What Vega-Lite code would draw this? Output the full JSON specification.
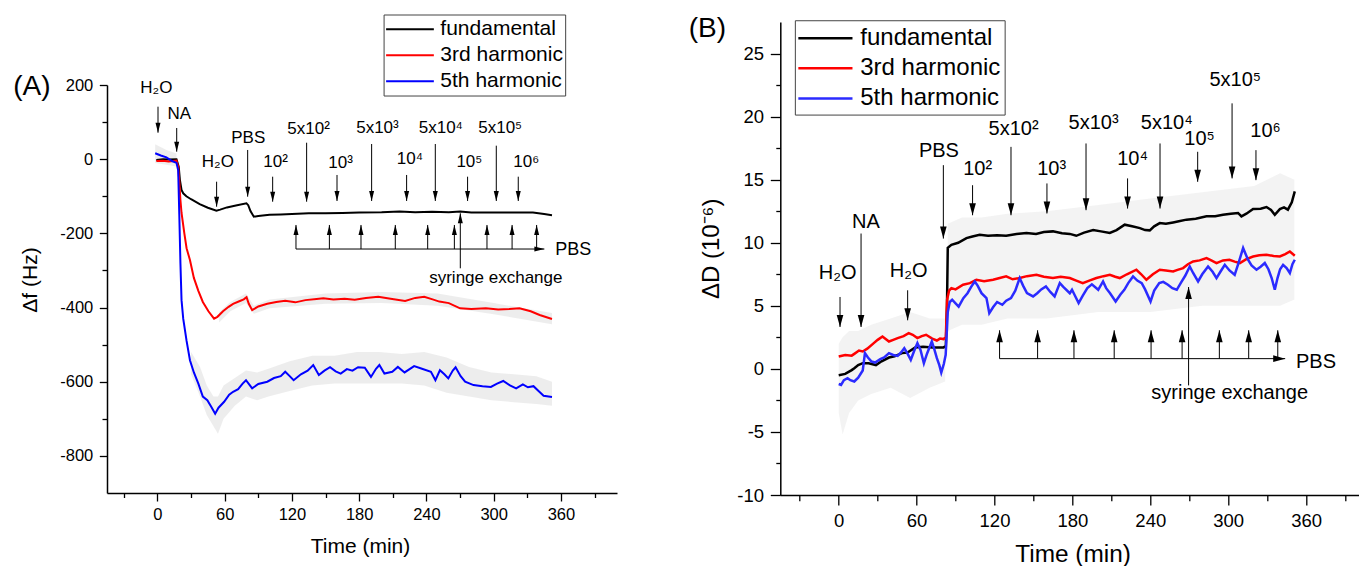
{
  "$schema": "https://vega.github.io/schema/vega-lite/v6.json",
  "padding": {"left": 13, "top": 14, "right": 2, "bottom": 0},
  "config": {
    "view": {"stroke": null},
    "font": "Liberation Sans",
    "axis": {"domainColor": "black", "tickColor": "black", "labelColor": "black", "titleColor": "black", "grid": false, "titleFontWeight": "normal", "labelFont": "Liberation Sans", "titleFont": "Liberation Sans", "labelOverlap": false, "labelFlush": false}
  },
  "datasets": {
    "aLines": [
      {"series":"fundamental","t":-1,"v":-2},{"series":"fundamental","t":5,"v":0},{"series":"fundamental","t":10,"v":-1},{"series":"fundamental","t":17,"v":0},{"series":"fundamental","t":19,"v":-20},{"series":"fundamental","t":20,"v":-55},{"series":"fundamental","t":21.5,"v":-83},{"series":"fundamental","t":23,"v":-92},{"series":"fundamental","t":25.8,"v":-100},{"series":"fundamental","t":30,"v":-108},{"series":"fundamental","t":37.7,"v":-121},{"series":"fundamental","t":45,"v":-131},{"series":"fundamental","t":52.6,"v":-139},{"series":"fundamental","t":56,"v":-136},{"series":"fundamental","t":62,"v":-130},{"series":"fundamental","t":70,"v":-125},{"series":"fundamental","t":79.4,"v":-119},{"series":"fundamental","t":81,"v":-124},{"series":"fundamental","t":83,"v":-140},{"series":"fundamental","t":86,"v":-155},{"series":"fundamental","t":90,"v":-153},{"series":"fundamental","t":100,"v":-150},{"series":"fundamental","t":110,"v":-149},{"series":"fundamental","t":120,"v":-148},{"series":"fundamental","t":135,"v":-146},{"series":"fundamental","t":150,"v":-146},{"series":"fundamental","t":165,"v":-145},{"series":"fundamental","t":180,"v":-144},{"series":"fundamental","t":200,"v":-143},{"series":"fundamental","t":216,"v":-141},{"series":"fundamental","t":230,"v":-143},{"series":"fundamental","t":245,"v":-142},{"series":"fundamental","t":260,"v":-143},{"series":"fundamental","t":270,"v":-141},{"series":"fundamental","t":280,"v":-144},{"series":"fundamental","t":300,"v":-144},{"series":"fundamental","t":320,"v":-144},{"series":"fundamental","t":335,"v":-144},{"series":"fundamental","t":345,"v":-148},{"series":"fundamental","t":352,"v":-151},
      {"series":"3rd harmonic","t":-1,"v":-5},{"series":"3rd harmonic","t":5,"v":-4},{"series":"3rd harmonic","t":10,"v":-6},{"series":"3rd harmonic","t":17,"v":-4},{"series":"3rd harmonic","t":18.5,"v":-20},{"series":"3rd harmonic","t":19.5,"v":-60},{"series":"3rd harmonic","t":20.5,"v":-110},{"series":"3rd harmonic","t":21.5,"v":-145},{"series":"3rd harmonic","t":24,"v":-200},{"series":"3rd harmonic","t":26,"v":-240},{"series":"3rd harmonic","t":29,"v":-272},{"series":"3rd harmonic","t":32.5,"v":-320},{"series":"3rd harmonic","t":36.5,"v":-355},{"series":"3rd harmonic","t":40.5,"v":-385},{"series":"3rd harmonic","t":45.5,"v":-410},{"series":"3rd harmonic","t":50.5,"v":-430},{"series":"3rd harmonic","t":53.5,"v":-425},{"series":"3rd harmonic","t":58.5,"v":-410},{"series":"3rd harmonic","t":63.5,"v":-398},{"series":"3rd harmonic","t":67.5,"v":-390},{"series":"3rd harmonic","t":73,"v":-383},{"series":"3rd harmonic","t":77,"v":-378},{"series":"3rd harmonic","t":79.5,"v":-372},{"series":"3rd harmonic","t":81.5,"v":-390},{"series":"3rd harmonic","t":84.5,"v":-407},{"series":"3rd harmonic","t":90,"v":-397},{"series":"3rd harmonic","t":98,"v":-390},{"series":"3rd harmonic","t":106,"v":-385},{"series":"3rd harmonic","t":114,"v":-382},{"series":"3rd harmonic","t":123,"v":-386},{"series":"3rd harmonic","t":132,"v":-380},{"series":"3rd harmonic","t":142,"v":-377},{"series":"3rd harmonic","t":148,"v":-375},{"series":"3rd harmonic","t":157,"v":-378},{"series":"3rd harmonic","t":167,"v":-376},{"series":"3rd harmonic","t":176,"v":-379},{"series":"3rd harmonic","t":186,"v":-374},{"series":"3rd harmonic","t":197,"v":-371},{"series":"3rd harmonic","t":208,"v":-376},{"series":"3rd harmonic","t":221,"v":-382},{"series":"3rd harmonic","t":230,"v":-374},{"series":"3rd harmonic","t":238,"v":-371},{"series":"3rd harmonic","t":245.5,"v":-378},{"series":"3rd harmonic","t":251.5,"v":-384},{"series":"3rd harmonic","t":260,"v":-388},{"series":"3rd harmonic","t":270,"v":-402},{"series":"3rd harmonic","t":280,"v":-404},{"series":"3rd harmonic","t":293,"v":-402},{"series":"3rd harmonic","t":304,"v":-405},{"series":"3rd harmonic","t":314,"v":-404},{"series":"3rd harmonic","t":323,"v":-402},{"series":"3rd harmonic","t":333,"v":-410},{"series":"3rd harmonic","t":341,"v":-420},{"series":"3rd harmonic","t":352,"v":-431},
      {"series":"5th harmonic","t":-2,"v":16},{"series":"5th harmonic","t":3,"v":10},{"series":"5th harmonic","t":8,"v":5},{"series":"5th harmonic","t":13,"v":-5},{"series":"5th harmonic","t":17,"v":-10},{"series":"5th harmonic","t":18.5,"v":-30},{"series":"5th harmonic","t":19.5,"v":-150},{"series":"5th harmonic","t":20.5,"v":-280},{"series":"5th harmonic","t":21.5,"v":-380},{"series":"5th harmonic","t":23,"v":-430},{"series":"5th harmonic","t":26,"v":-490},{"series":"5th harmonic","t":29,"v":-542},{"series":"5th harmonic","t":32.5,"v":-575},{"series":"5th harmonic","t":36.5,"v":-605},{"series":"5th harmonic","t":40.5,"v":-640},{"series":"5th harmonic","t":44.5,"v":-650},{"series":"5th harmonic","t":48.5,"v":-670},{"series":"5th harmonic","t":51.5,"v":-686},{"series":"5th harmonic","t":54.5,"v":-670},{"series":"5th harmonic","t":59.5,"v":-654},{"series":"5th harmonic","t":64,"v":-635},{"series":"5th harmonic","t":67.5,"v":-627},{"series":"5th harmonic","t":72,"v":-620},{"series":"5th harmonic","t":76,"v":-605},{"series":"5th harmonic","t":79,"v":-596},{"series":"5th harmonic","t":82,"v":-608},{"series":"5th harmonic","t":84.5,"v":-618},{"series":"5th harmonic","t":90,"v":-606},{"series":"5th harmonic","t":98,"v":-600},{"series":"5th harmonic","t":104,"v":-590},{"series":"5th harmonic","t":110,"v":-585},{"series":"5th harmonic","t":114,"v":-573},{"series":"5th harmonic","t":118,"v":-585},{"series":"5th harmonic","t":121.5,"v":-596},{"series":"5th harmonic","t":128,"v":-580},{"series":"5th harmonic","t":134,"v":-570},{"series":"5th harmonic","t":139,"v":-555},{"series":"5th harmonic","t":144,"v":-582},{"series":"5th harmonic","t":149,"v":-570},{"series":"5th harmonic","t":154,"v":-561},{"series":"5th harmonic","t":159,"v":-572},{"series":"5th harmonic","t":163.5,"v":-578},{"series":"5th harmonic","t":169,"v":-566},{"series":"5th harmonic","t":174,"v":-570},{"series":"5th harmonic","t":179,"v":-561},{"series":"5th harmonic","t":185,"v":-562},{"series":"5th harmonic","t":190.5,"v":-587},{"series":"5th harmonic","t":195,"v":-565},{"series":"5th harmonic","t":198,"v":-555},{"series":"5th harmonic","t":202.5,"v":-578},{"series":"5th harmonic","t":209.5,"v":-573},{"series":"5th harmonic","t":214.5,"v":-560},{"series":"5th harmonic","t":220.5,"v":-575},{"series":"5th harmonic","t":229,"v":-558},{"series":"5th harmonic","t":236,"v":-565},{"series":"5th harmonic","t":244,"v":-573},{"series":"5th harmonic","t":248,"v":-596},{"series":"5th harmonic","t":252,"v":-569},{"series":"5th harmonic","t":256,"v":-580},{"series":"5th harmonic","t":259.5,"v":-591},{"series":"5th harmonic","t":263.5,"v":-570},{"series":"5th harmonic","t":266,"v":-561},{"series":"5th harmonic","t":270.5,"v":-585},{"series":"5th harmonic","t":274.5,"v":-600},{"series":"5th harmonic","t":282,"v":-609},{"series":"5th harmonic","t":290,"v":-612},{"series":"5th harmonic","t":297.5,"v":-614},{"series":"5th harmonic","t":303,"v":-605},{"series":"5th harmonic","t":308.5,"v":-598},{"series":"5th harmonic","t":314.5,"v":-610},{"series":"5th harmonic","t":320,"v":-618},{"series":"5th harmonic","t":326,"v":-607},{"series":"5th harmonic","t":330.5,"v":-615},{"series":"5th harmonic","t":335.5,"v":-612},{"series":"5th harmonic","t":340,"v":-625},{"series":"5th harmonic","t":344.5,"v":-638},{"series":"5th harmonic","t":352,"v":-641}
    ],
    "aBand": [
      {"g":"early","t":-2,"lo":-10,"hi":40},{"g":"early","t":8,"lo":-15,"hi":25},{"g":"early","t":17,"lo":-20,"hi":15},
      {"g":"blue","t":30,"lo":-580,"hi":-520},{"g":"blue","t":38,"lo":-640,"hi":-560},{"g":"blue","t":44,"lo":-690,"hi":-610},{"g":"blue","t":50,"lo":-720,"hi":-640},{"g":"blue","t":54,"lo":-740,"hi":-640},{"g":"blue","t":59,"lo":-700,"hi":-610},{"g":"blue","t":69,"lo":-665,"hi":-590},{"g":"blue","t":79,"lo":-640,"hi":-570},{"g":"blue","t":89,"lo":-650,"hi":-575},{"g":"blue","t":99,"lo":-640,"hi":-565},{"g":"blue","t":118,"lo":-625,"hi":-545},{"g":"blue","t":138,"lo":-610,"hi":-530},{"g":"blue","t":158,"lo":-605,"hi":-530},{"g":"blue","t":178,"lo":-605,"hi":-520},{"g":"blue","t":198,"lo":-605,"hi":-520},{"g":"blue","t":218,"lo":-605,"hi":-525},{"g":"blue","t":238,"lo":-610,"hi":-520},{"g":"blue","t":258,"lo":-630,"hi":-535},{"g":"blue","t":278,"lo":-640,"hi":-560},{"g":"blue","t":298,"lo":-650,"hi":-575},{"g":"blue","t":318,"lo":-655,"hi":-580},{"g":"blue","t":338,"lo":-660,"hi":-585},{"g":"blue","t":352,"lo":-665,"hi":-600},
      {"g":"red","t":55,"lo":-440,"hi":-412},{"g":"red","t":65,"lo":-410,"hi":-385},{"g":"red","t":79,"lo":-388,"hi":-362},{"g":"red","t":86,"lo":-417,"hi":-395},{"g":"red","t":100,"lo":-402,"hi":-378},{"g":"red","t":150,"lo":-390,"hi":-362},{"g":"red","t":200,"lo":-388,"hi":-358},{"g":"red","t":250,"lo":-395,"hi":-362},{"g":"red","t":300,"lo":-418,"hi":-388},{"g":"red","t":352,"lo":-445,"hi":-415}
    ],
    "aDown": [
      {"t":0.5,"top":141.5,"tip":71.4},{"t":17.2,"top":84.1,"tip":20.2},{"t":52.8,"top":-60.7,"tip":-128.1},{"t":80.5,"top":24.8,"tip":-101.1},{"t":102.8,"top":-47.2,"tip":-114.6},{"t":133.1,"top":44.4,"tip":-114.6},{"t":160.2,"top":-42.6,"tip":-112.7},{"t":191.1,"top":40.9,"tip":-112.7},{"t":222.3,"top":-42.6,"tip":-112.7},{"t":247.9,"top":40.9,"tip":-112.7},{"t":276.7,"top":-47.2,"tip":-112.7},{"t":302.3,"top":36.4,"tip":-112.7},{"t":321.9,"top":-47.2,"tip":-112.7}
    ],
    "aUp": [
      {"t":123.6,"base":-242.2,"tip":-177.4},{"t":153.4,"base":-242.2,"tip":-177.4},{"t":181.6,"base":-242.2,"tip":-177.4},{"t":212.2,"base":-242.2,"tip":-177.4},{"t":241.1,"base":-242.2,"tip":-177.4},{"t":264.9,"base":-242.2,"tip":-177.4},{"t":294.0,"base":-242.2,"tip":-177.4},{"t":316.4,"base":-242.2,"tip":-177.4},{"t":338.3,"base":-242.2,"tip":-177.4}
    ],
    "aBase": [{"t1":123.6,"t2":345.2,"v":-242.2}],
    "aSyr": [{"t":270.2,"top":-145.9,"bottom":-294.2}],
    "aLabels": [
      {"t":-1.0,"v":177.6,"label":"H₂O"},{"t":19.5,"v":108.3,"label":"NA"},{"t":53.9,"v":-20.3,"label":"H₂O"},{"t":81,"v":42.8,"label":"PBS"},{"t":105.4,"v":-20.3,"label":"10²"},{"t":134.8,"v":67.9,"label":"5x10²"},{"t":163.4,"v":-24.6,"label":"10³"},{"t":196.3,"v":71.4,"label":"5x10³"},{"t":225.3,"v":-13,"label":"10⁴"},{"t":252.8,"v":71.4,"label":"5x10⁴"},{"t":278.3,"v":-20.3,"label":"10⁵"},{"t":305.8,"v":71.4,"label":"5x10⁵"},{"t":329,"v":-20.3,"label":"10⁶"},{"t":301.9,"v":-334.6,"label":"syringe exchange"}
    ],
    "aRight": [{"t":355,"v":-258.3,"label":"PBS"}],
    "aLegend": [{"series":"fundamental","v":350.4},{"series":"3rd harmonic","v":280.1},{"series":"5th harmonic","v":210}],
    "bLines": [
      {"series":"fundamental","t":0,"v":-0.5},{"series":"fundamental","t":5,"v":-0.4},{"series":"fundamental","t":10,"v":-0.1},{"series":"fundamental","t":12,"v":0.05},{"series":"fundamental","t":15,"v":0.3},{"series":"fundamental","t":18.5,"v":0.45},{"series":"fundamental","t":23,"v":0.45},{"series":"fundamental","t":28.7,"v":0.3},{"series":"fundamental","t":33,"v":0.6},{"series":"fundamental","t":38.7,"v":0.9},{"series":"fundamental","t":43,"v":1.0},{"series":"fundamental","t":48.8,"v":1.25},{"series":"fundamental","t":53,"v":1.3},{"series":"fundamental","t":58.9,"v":1.7},{"series":"fundamental","t":65,"v":1.75},{"series":"fundamental","t":72,"v":1.7},{"series":"fundamental","t":80.7,"v":1.7},{"series":"fundamental","t":82.5,"v":1.8},{"series":"fundamental","t":83.4,"v":5},{"series":"fundamental","t":84,"v":9.6},{"series":"fundamental","t":86.8,"v":9.84},{"series":"fundamental","t":92,"v":10.0},{"series":"fundamental","t":98.4,"v":10.37},{"series":"fundamental","t":103,"v":10.5},{"series":"fundamental","t":108.6,"v":10.63},{"series":"fundamental","t":115,"v":10.55},{"series":"fundamental","t":122,"v":10.6},{"series":"fundamental","t":129,"v":10.55},{"series":"fundamental","t":137,"v":10.7},{"series":"fundamental","t":144.6,"v":10.77},{"series":"fundamental","t":152,"v":10.7},{"series":"fundamental","t":158,"v":10.85},{"series":"fundamental","t":165,"v":10.9},{"series":"fundamental","t":172,"v":10.75},{"series":"fundamental","t":178,"v":10.7},{"series":"fundamental","t":183,"v":10.55},{"series":"fundamental","t":189,"v":10.8},{"series":"fundamental","t":196,"v":11.0},{"series":"fundamental","t":202,"v":10.9},{"series":"fundamental","t":208.8,"v":10.77},{"series":"fundamental","t":214,"v":11.0},{"series":"fundamental","t":220.3,"v":11.43},{"series":"fundamental","t":226,"v":11.3},{"series":"fundamental","t":232,"v":11.16},{"series":"fundamental","t":236,"v":11.0},{"series":"fundamental","t":239.6,"v":10.98},{"series":"fundamental","t":243,"v":11.3},{"series":"fundamental","t":247.3,"v":11.56},{"series":"fundamental","t":252,"v":11.5},{"series":"fundamental","t":257.6,"v":11.61},{"series":"fundamental","t":262,"v":11.7},{"series":"fundamental","t":267.9,"v":11.83},{"series":"fundamental","t":275,"v":11.9},{"series":"fundamental","t":283.3,"v":12.09},{"series":"fundamental","t":290,"v":12.1},{"series":"fundamental","t":296,"v":12.22},{"series":"fundamental","t":302,"v":12.3},{"series":"fundamental","t":307.6,"v":12.36},{"series":"fundamental","t":310.2,"v":12.09},{"series":"fundamental","t":314,"v":12.3},{"series":"fundamental","t":319.2,"v":12.67},{"series":"fundamental","t":325,"v":12.7},{"series":"fundamental","t":329.5,"v":12.83},{"series":"fundamental","t":333,"v":12.6},{"series":"fundamental","t":335.9,"v":12.22},{"series":"fundamental","t":339.8,"v":12.67},{"series":"fundamental","t":343,"v":12.8},{"series":"fundamental","t":346,"v":12.62},{"series":"fundamental","t":349,"v":13.2},{"series":"fundamental","t":351.3,"v":14.07},
      {"series":"3rd harmonic","t":0,"v":0.98},{"series":"3rd harmonic","t":5,"v":1.1},{"series":"3rd harmonic","t":10,"v":1.05},{"series":"3rd harmonic","t":12,"v":1.19},{"series":"3rd harmonic","t":15.6,"v":1.45},{"series":"3rd harmonic","t":18.5,"v":1.38},{"series":"3rd harmonic","t":22,"v":1.6},{"series":"3rd harmonic","t":27,"v":2.04},{"series":"3rd harmonic","t":30,"v":2.3},{"series":"3rd harmonic","t":33.7,"v":2.57},{"series":"3rd harmonic","t":38.7,"v":2.17},{"series":"3rd harmonic","t":42,"v":2.3},{"series":"3rd harmonic","t":45.4,"v":2.44},{"series":"3rd harmonic","t":50,"v":2.6},{"series":"3rd harmonic","t":53.9,"v":2.83},{"series":"3rd harmonic","t":57,"v":2.7},{"series":"3rd harmonic","t":60.6,"v":2.44},{"series":"3rd harmonic","t":64,"v":2.6},{"series":"3rd harmonic","t":67.3,"v":2.7},{"series":"3rd harmonic","t":72,"v":2.4},{"series":"3rd harmonic","t":75.6,"v":2.25},{"series":"3rd harmonic","t":78,"v":2.4},{"series":"3rd harmonic","t":80.7,"v":2.36},{"series":"3rd harmonic","t":82.5,"v":2.5},{"series":"3rd harmonic","t":83.5,"v":5.5},{"series":"3rd harmonic","t":85,"v":6.2},{"series":"3rd harmonic","t":86.8,"v":6.4},{"series":"3rd harmonic","t":90,"v":6.3},{"series":"3rd harmonic","t":95.8,"v":6.67},{"series":"3rd harmonic","t":101,"v":6.8},{"series":"3rd harmonic","t":106,"v":7.06},{"series":"3rd harmonic","t":112,"v":6.95},{"series":"3rd harmonic","t":118.9,"v":7.06},{"series":"3rd harmonic","t":124,"v":7.2},{"series":"3rd harmonic","t":129,"v":7.33},{"series":"3rd harmonic","t":134,"v":7.1},{"series":"3rd harmonic","t":139.4,"v":7.2},{"series":"3rd harmonic","t":145,"v":7.35},{"series":"3rd harmonic","t":152.3,"v":7.46},{"series":"3rd harmonic","t":158,"v":7.3},{"series":"3rd harmonic","t":165,"v":7.2},{"series":"3rd harmonic","t":171,"v":7.3},{"series":"3rd harmonic","t":178,"v":7.2},{"series":"3rd harmonic","t":183,"v":7.0},{"series":"3rd harmonic","t":188,"v":6.8},{"series":"3rd harmonic","t":193,"v":7.0},{"series":"3rd harmonic","t":198.5,"v":7.2},{"series":"3rd harmonic","t":204,"v":7.35},{"series":"3rd harmonic","t":208.8,"v":7.46},{"series":"3rd harmonic","t":213,"v":7.3},{"series":"3rd harmonic","t":216.5,"v":7.2},{"series":"3rd harmonic","t":222,"v":7.5},{"series":"3rd harmonic","t":229.3,"v":7.86},{"series":"3rd harmonic","t":233,"v":7.5},{"series":"3rd harmonic","t":237,"v":7.06},{"series":"3rd harmonic","t":242,"v":7.5},{"series":"3rd harmonic","t":247.3,"v":7.86},{"series":"3rd harmonic","t":252,"v":7.8},{"series":"3rd harmonic","t":257.6,"v":7.72},{"series":"3rd harmonic","t":261,"v":7.85},{"series":"3rd harmonic","t":265.3,"v":7.99},{"series":"3rd harmonic","t":269,"v":8.3},{"series":"3rd harmonic","t":273,"v":8.52},{"series":"3rd harmonic","t":278,"v":8.6},{"series":"3rd harmonic","t":283.3,"v":8.78},{"series":"3rd harmonic","t":287,"v":8.6},{"series":"3rd harmonic","t":291,"v":8.39},{"series":"3rd harmonic","t":296,"v":8.6},{"series":"3rd harmonic","t":301,"v":8.65},{"series":"3rd harmonic","t":305,"v":8.5},{"series":"3rd harmonic","t":309,"v":8.39},{"series":"3rd harmonic","t":314,"v":8.7},{"series":"3rd harmonic","t":319.2,"v":8.91},{"series":"3rd harmonic","t":324,"v":9.0},{"series":"3rd harmonic","t":329.5,"v":9.05},{"series":"3rd harmonic","t":335,"v":8.95},{"series":"3rd harmonic","t":339.8,"v":8.91},{"series":"3rd harmonic","t":344,"v":9.1},{"series":"3rd harmonic","t":347.5,"v":9.31},{"series":"3rd harmonic","t":351.3,"v":8.97},
      {"series":"5th harmonic","t":0,"v":-1.2},{"series":"5th harmonic","t":1.8,"v":-1.27},{"series":"5th harmonic","t":4,"v":-0.9},{"series":"5th harmonic","t":6.8,"v":-0.74},{"series":"5th harmonic","t":9,"v":-0.9},{"series":"5th harmonic","t":12,"v":-1.0},{"series":"5th harmonic","t":15,"v":-0.7},{"series":"5th harmonic","t":18.5,"v":-0.13},{"series":"5th harmonic","t":20.2,"v":1.25},{"series":"5th harmonic","t":22.5,"v":0.9},{"series":"5th harmonic","t":25.3,"v":0.58},{"series":"5th harmonic","t":28,"v":0.5},{"series":"5th harmonic","t":32,"v":0.77},{"series":"5th harmonic","t":35,"v":0.9},{"series":"5th harmonic","t":38.7,"v":1.25},{"series":"5th harmonic","t":42,"v":1.1},{"series":"5th harmonic","t":45.4,"v":1.03},{"series":"5th harmonic","t":48,"v":1.3},{"series":"5th harmonic","t":50.5,"v":1.64},{"series":"5th harmonic","t":53,"v":1.2},{"series":"5th harmonic","t":55.5,"v":0.71},{"series":"5th harmonic","t":58,"v":1.4},{"series":"5th harmonic","t":60.6,"v":2.04},{"series":"5th harmonic","t":63,"v":1.5},{"series":"5th harmonic","t":65.6,"v":0.45},{"series":"5th harmonic","t":68,"v":1.2},{"series":"5th harmonic","t":71.7,"v":2.17},{"series":"5th harmonic","t":73.5,"v":1.6},{"series":"5th harmonic","t":75.6,"v":0.85},{"series":"5th harmonic","t":77.5,"v":0.3},{"series":"5th harmonic","t":79,"v":-0.29},{"series":"5th harmonic","t":81,"v":0.4},{"series":"5th harmonic","t":82.4,"v":1.11},{"series":"5th harmonic","t":84,"v":4.5},{"series":"5th harmonic","t":85.5,"v":5.3},{"series":"5th harmonic","t":87.4,"v":5.48},{"series":"5th harmonic","t":90,"v":5.2},{"series":"5th harmonic","t":92.4,"v":4.94},{"series":"5th harmonic","t":96,"v":5.6},{"series":"5th harmonic","t":99.2,"v":6.0},{"series":"5th harmonic","t":102,"v":6.5},{"series":"5th harmonic","t":104.8,"v":6.93},{"series":"5th harmonic","t":107,"v":6.6},{"series":"5th harmonic","t":110,"v":6.0},{"series":"5th harmonic","t":113.8,"v":5.61},{"series":"5th harmonic","t":116,"v":4.42},{"series":"5th harmonic","t":119,"v":4.9},{"series":"5th harmonic","t":122,"v":5.3},{"series":"5th harmonic","t":126,"v":5.08},{"series":"5th harmonic","t":129,"v":5.4},{"series":"5th harmonic","t":132.7,"v":5.61},{"series":"5th harmonic","t":136,"v":6.2},{"series":"5th harmonic","t":139.4,"v":7.2},{"series":"5th harmonic","t":142,"v":6.6},{"series":"5th harmonic","t":145,"v":6.0},{"series":"5th harmonic","t":149.7,"v":5.74},{"series":"5th harmonic","t":152.9,"v":6.0},{"series":"5th harmonic","t":156,"v":6.3},{"series":"5th harmonic","t":159.6,"v":6.53},{"series":"5th harmonic","t":163,"v":6.1},{"series":"5th harmonic","t":166.3,"v":5.74},{"series":"5th harmonic","t":170.3,"v":6.8},{"series":"5th harmonic","t":173,"v":6.5},{"series":"5th harmonic","t":178,"v":6.0},{"series":"5th harmonic","t":179.7,"v":6.27},{"series":"5th harmonic","t":182,"v":5.8},{"series":"5th harmonic","t":184.8,"v":5.21},{"series":"5th harmonic","t":188,"v":5.8},{"series":"5th harmonic","t":191.5,"v":6.4},{"series":"5th harmonic","t":195,"v":6.7},{"series":"5th harmonic","t":199.9,"v":6.27},{"series":"5th harmonic","t":203.6,"v":6.93},{"series":"5th harmonic","t":206,"v":6.4},{"series":"5th harmonic","t":209,"v":6.0},{"series":"5th harmonic","t":213.3,"v":5.34},{"series":"5th harmonic","t":217,"v":5.9},{"series":"5th harmonic","t":220,"v":6.27},{"series":"5th harmonic","t":223,"v":6.8},{"series":"5th harmonic","t":226.7,"v":7.33},{"series":"5th harmonic","t":230,"v":7.0},{"series":"5th harmonic","t":233.4,"v":6.8},{"series":"5th harmonic","t":236,"v":6.3},{"series":"5th harmonic","t":240.2,"v":5.34},{"series":"5th harmonic","t":243,"v":6.2},{"series":"5th harmonic","t":246.9,"v":6.8},{"series":"5th harmonic","t":250,"v":6.9},{"series":"5th harmonic","t":253.6,"v":6.67},{"series":"5th harmonic","t":257,"v":6.4},{"series":"5th harmonic","t":260.4,"v":6.27},{"series":"5th harmonic","t":264,"v":6.9},{"series":"5th harmonic","t":267,"v":7.4},{"series":"5th harmonic","t":270.4,"v":8.12},{"series":"5th harmonic","t":273,"v":7.6},{"series":"5th harmonic","t":276.8,"v":6.93},{"series":"5th harmonic","t":280,"v":7.5},{"series":"5th harmonic","t":284.5,"v":8.12},{"series":"5th harmonic","t":288,"v":7.7},{"series":"5th harmonic","t":291,"v":7.2},{"series":"5th harmonic","t":294,"v":7.7},{"series":"5th harmonic","t":297.4,"v":8.25},{"series":"5th harmonic","t":301,"v":7.8},{"series":"5th harmonic","t":305,"v":7.46},{"series":"5th harmonic","t":308,"v":8.4},{"series":"5th harmonic","t":311.5,"v":9.58},{"series":"5th harmonic","t":313,"v":9.2},{"series":"5th harmonic","t":315.3,"v":8.65},{"series":"5th harmonic","t":318,"v":8.2},{"series":"5th harmonic","t":321.8,"v":7.86},{"series":"5th harmonic","t":325,"v":8.1},{"series":"5th harmonic","t":328.2,"v":8.39},{"series":"5th harmonic","t":331,"v":7.9},{"series":"5th harmonic","t":333.5,"v":7.2},{"series":"5th harmonic","t":335.9,"v":6.27},{"series":"5th harmonic","t":338,"v":7.2},{"series":"5th harmonic","t":340,"v":7.9},{"series":"5th harmonic","t":342.3,"v":8.25},{"series":"5th harmonic","t":345,"v":8.0},{"series":"5th harmonic","t":347.5,"v":7.6},{"series":"5th harmonic","t":349.5,"v":8.3},{"series":"5th harmonic","t":351.3,"v":8.65}
    ],
    "bBand": [
      {"g":"early","t":0,"lo":-3.5,"hi":2.0},{"g":"early","t":3,"lo":-5.2,"hi":2.5},{"g":"early","t":8,"lo":-3.5,"hi":3.0},{"g":"early","t":15,"lo":-2.5,"hi":3.0},{"g":"early","t":25,"lo":-2.0,"hi":3.5},{"g":"early","t":40,"lo":-1.5,"hi":4.0},{"g":"early","t":55,"lo":-2.3,"hi":4.5},{"g":"early","t":70,"lo":-1.5,"hi":4.0},{"g":"early","t":82,"lo":-1.0,"hi":4.0},
      {"g":"late","t":84,"lo":3.0,"hi":11.5},{"g":"late","t":95,"lo":3.5,"hi":12.0},{"g":"late","t":110,"lo":3.5,"hi":12.0},{"g":"late","t":130,"lo":4.0,"hi":12.3},{"g":"late","t":160,"lo":4.0,"hi":12.5},{"g":"late","t":200,"lo":4.5,"hi":13.0},{"g":"late","t":240,"lo":4.5,"hi":13.5},{"g":"late","t":280,"lo":5.0,"hi":14.0},{"g":"late","t":320,"lo":5.0,"hi":14.5},{"g":"late","t":340,"lo":5.0,"hi":15.5},{"g":"late","t":351,"lo":5.5,"hi":15.0}
    ],
    "bDown": [
      {"t":1.0,"top":5.70,"tip":3.32},{"t":17.2,"top":10.73,"tip":3.32},{"t":53.1,"top":6.23,"tip":3.85},{"t":80.6,"top":16.15,"tip":10.33},{"t":103.1,"top":14.56,"tip":12.18},{"t":132.7,"top":17.6,"tip":12.18},{"t":160.4,"top":14.7,"tip":12.32},{"t":190.5,"top":17.87,"tip":12.58},{"t":222.5,"top":15.1,"tip":12.71},{"t":247.5,"top":17.87,"tip":12.71},{"t":276.5,"top":17.21,"tip":14.83},{"t":303,"top":21.05,"tip":15.1},{"t":321.4,"top":17.34,"tip":14.96}
    ],
    "bUp": [
      {"t":123.9,"base":0.81,"tip":3.06},{"t":153.2,"base":0.81,"tip":3.06},{"t":181.2,"base":0.81,"tip":3.06},{"t":212.2,"base":0.81,"tip":3.06},{"t":240.6,"base":0.81,"tip":3.06},{"t":264.5,"base":0.81,"tip":3.06},{"t":293.2,"base":0.81,"tip":3.06},{"t":315.8,"base":0.81,"tip":3.06},{"t":338.2,"base":0.81,"tip":3.06}
    ],
    "bBase": [{"t1":123.9,"t2":343.9,"v":0.81}],
    "bSyr": [{"t":269.5,"top":6.49,"bottom":-1.31}],
    "bLabels": [
      {"t":-0.8,"v":7.16,"label":"H₂O"},{"t":21,"v":11.2,"label":"NA"},{"t":53.8,"v":7.29,"label":"H₂O"},{"t":77.2,"v":16.81,"label":"PBS"},{"t":107,"v":15.36,"label":"10²"},{"t":134.7,"v":18.53,"label":"5x10²"},{"t":164,"v":15.36,"label":"10³"},{"t":196.3,"v":18.98,"label":"5x10³"},{"t":226.4,"v":16.15,"label":"10⁴"},{"t":252.7,"v":18.98,"label":"5x10⁴"},{"t":278,"v":17.74,"label":"10⁵"},{"t":305.5,"v":22.42,"label":"5x10⁵"},{"t":328.8,"v":18.4,"label":"10⁶"},{"t":301.2,"v":-2.37,"label":"syringe exchange"}
    ],
    "bRight": [{"t":352.2,"v":0.1,"label":"PBS"}],
    "bLegend": [{"series":"fundamental","v":26.21},{"series":"3rd harmonic","v":23.83},{"series":"5th harmonic","v":21.44}]
  },
  "hconcat": [
    {
      "width": 510,
      "height": 471,
      "resolve": {"axis": {"x": "independent", "y": "independent"}},
      "layer": [
        {
          "data": {"name": "aBand"},
          "mark": {"type": "area", "color": "#c4c4c4", "opacity": 0.3},
          "encoding": {
            "x": {"field": "t", "type": "quantitative", "scale": {"domain": [-45, 410], "nice": false, "zero": false},
              "axis": {"values": [0, 60, 120, 180, 240, 300, 360], "tickSize": 8, "tickWidth": 1.3, "domainWidth": 1.5, "labelFontSize": 16.5, "labelPadding": 5, "labelExpr": "'' + datum.value", "title": "Time (min)", "titleFontSize": 21, "titleX": 253, "titleY": 59.5, "titleAlign": "center", "titleBaseline": "alphabetic"}},
            "y": {"field": "lo", "type": "quantitative", "scale": {"domain": [-900, 200], "range": [471, 63], "nice": false, "zero": false},
              "axis": {"values": [-800, -600, -400, -200, 0, 200], "tickSize": 7.7, "tickWidth": 1.3, "domainWidth": 1.5, "labelFontSize": 16.5, "labelPadding": 6.5, "labelExpr": "'' + datum.value", "title": "Δf (Hz)", "titleFontSize": 21, "titleAngle": -90, "titleX": -71, "titleY": 257.5, "titleAlign": "center", "titleBaseline": "alphabetic"}},
            "y2": {"field": "hi"},
            "detail": {"field": "g", "type": "nominal"}
          }
        },
        {
          "data": {"name": "aLines"},
          "mark": {"type": "line", "strokeWidth": 2},
          "encoding": {
            "x": {"field": "t", "type": "quantitative", "axis": {"values": [-30, 30, 90, 150, 210, 270, 330, 390], "orient": "bottom", "tickSize": 4.5, "tickWidth": 1.3, "labels": false, "domain": false, "title": null}},
            "y": {"field": "v", "type": "quantitative", "axis": {"values": [-700, -500, -300, -100, 100], "orient": "left", "tickSize": 5, "tickWidth": 1.3, "labels": false, "domain": false, "title": null}},
            "color": {"field": "series", "type": "nominal", "scale": {"domain": ["fundamental", "3rd harmonic", "5th harmonic"], "range": ["#000000", "#ff0000", "#0000ff"]}, "legend": null}
          }
        },
        {
          "data": {"name": "aDown"},
          "mark": {"type": "rule", "color": "black", "strokeWidth": 1},
          "encoding": {"x": {"field": "t", "type": "quantitative", "axis": null}, "y": {"field": "top", "type": "quantitative", "axis": null}, "y2": {"field": "tip"}}
        },
        {
          "data": {"name": "aDown"},
          "mark": {"type": "point", "shape": "M0,0L-0.5,-2L0.5,-2Z", "filled": true, "color": "black", "size": 100, "opacity": 1, "strokeWidth": 0},
          "encoding": {"x": {"field": "t", "type": "quantitative", "axis": null}, "y": {"field": "tip", "type": "quantitative", "axis": null}}
        },
        {
          "data": {"name": "aUp"},
          "mark": {"type": "rule", "color": "black", "strokeWidth": 1},
          "encoding": {"x": {"field": "t", "type": "quantitative", "axis": null}, "y": {"field": "base", "type": "quantitative", "axis": null}, "y2": {"field": "tip"}}
        },
        {
          "data": {"name": "aUp"},
          "mark": {"type": "point", "shape": "M0,0L-0.5,2L0.5,2Z", "filled": true, "color": "black", "size": 100, "opacity": 1, "strokeWidth": 0},
          "encoding": {"x": {"field": "t", "type": "quantitative", "axis": null}, "y": {"field": "tip", "type": "quantitative", "axis": null}}
        },
        {
          "data": {"name": "aBase"},
          "mark": {"type": "rule", "color": "black", "strokeWidth": 1},
          "encoding": {"x": {"field": "t1", "type": "quantitative", "axis": null}, "x2": {"field": "t2"}, "y": {"field": "v", "type": "quantitative", "axis": null}}
        },
        {
          "data": {"name": "aBase"},
          "mark": {"type": "point", "shape": "M0,0L-2,-0.5L-2,0.5Z", "filled": true, "color": "black", "size": 100, "opacity": 1, "strokeWidth": 0},
          "encoding": {"x": {"field": "t2", "type": "quantitative", "axis": null}, "y": {"field": "v", "type": "quantitative", "axis": null}}
        },
        {
          "data": {"name": "aSyr"},
          "mark": {"type": "rule", "color": "black", "strokeWidth": 1},
          "encoding": {"x": {"field": "t", "type": "quantitative", "axis": null}, "y": {"field": "top", "type": "quantitative", "axis": null}, "y2": {"field": "bottom"}}
        },
        {
          "data": {"name": "aSyr"},
          "mark": {"type": "point", "shape": "M0,0L-0.5,2L0.5,2Z", "filled": true, "color": "black", "size": 100, "opacity": 1, "strokeWidth": 0},
          "encoding": {"x": {"field": "t", "type": "quantitative", "axis": null}, "y": {"field": "top", "type": "quantitative", "axis": null}}
        },
        {
          "data": {"name": "aLabels"},
          "mark": {"type": "text", "align": "center", "baseline": "alphabetic", "fontSize": 17, "color": "black"},
          "encoding": {"x": {"field": "t", "type": "quantitative", "axis": null}, "y": {"field": "v", "type": "quantitative", "axis": null}, "text": {"field": "label"}}
        },
        {
          "data": {"name": "aRight"},
          "mark": {"type": "text", "align": "left", "baseline": "alphabetic", "fontSize": 18, "color": "black"},
          "encoding": {"x": {"field": "t", "type": "quantitative", "axis": null}, "y": {"field": "v", "type": "quantitative", "axis": null}, "text": {"field": "label"}}
        },
        {
          "data": {"values": [{"p": "(A)"}]},
          "mark": {"type": "text", "align": "center", "baseline": "middle", "fontSize": 28, "color": "black"},
          "encoding": {"x": {"datum": -112, "type": "quantitative", "axis": null}, "y": {"datum": 193.3, "type": "quantitative", "axis": null}, "text": {"field": "p"}}
        },
        {
          "data": {"values": [{"p": "box"}]},
          "mark": {"type": "rect", "fill": "white", "stroke": "#444444", "strokeWidth": 1},
          "encoding": {"x": {"datum": 202.2, "type": "quantitative", "axis": null}, "x2": {"datum": 364.2}, "y": {"datum": 388.7, "type": "quantitative", "axis": null}, "y2": {"datum": 170.3}}
        },
        {
          "data": {"name": "aLegend"},
          "mark": {"type": "rule", "strokeWidth": 2},
          "encoding": {"x": {"datum": 204, "type": "quantitative", "axis": null}, "x2": {"datum": 246.6}, "y": {"field": "v", "type": "quantitative", "axis": null}, "color": {"field": "series", "type": "nominal", "legend": null}}
        },
        {
          "data": {"name": "aLegend"},
          "mark": {"type": "text", "align": "left", "baseline": "middle", "fontSize": 21, "color": "black"},
          "encoding": {"x": {"datum": 252.4, "type": "quantitative", "axis": null}, "y": {"field": "v", "type": "quantitative", "axis": null}, "text": {"field": "series"}}
        }
      ]
    },
    {
      "width": 579,
      "height": 473,
      "resolve": {"axis": {"x": "independent", "y": "independent"}},
      "layer": [
        {
          "data": {"name": "bBand"},
          "mark": {"type": "area", "color": "#c4c4c4", "opacity": 0.2},
          "encoding": {
            "x": {"field": "t", "type": "quantitative", "scale": {"domain": [-45, 401], "nice": false, "zero": false},
              "axis": {"values": [0, 60, 120, 180, 240, 300, 360], "tickSize": 10, "tickWidth": 1.3, "domainWidth": 1.5, "labelFontSize": 18.5, "labelPadding": 6, "labelExpr": "'' + datum.value", "title": "Time (min)", "titleFontSize": 24.4, "titleX": 292.3, "titleY": 66.5, "titleAlign": "center", "titleBaseline": "alphabetic"}},
            "y": {"field": "lo", "type": "quantitative", "scale": {"domain": [-10, 27.5], "nice": false, "zero": false},
              "axis": {"values": [-10, -5, 0, 5, 10, 15, 20, 25], "tickSize": 10, "tickWidth": 1.3, "domainWidth": 1.5, "labelFontSize": 18.5, "labelPadding": 6.7, "labelExpr": "'' + datum.value", "title": "ΔD (10⁻⁶)", "titleFontSize": 24, "titleAngle": -90, "titleX": -62, "titleY": 226.3, "titleAlign": "center", "titleBaseline": "alphabetic"}},
            "y2": {"field": "hi"},
            "detail": {"field": "g", "type": "nominal"}
          }
        },
        {
          "data": {"name": "bLines"},
          "mark": {"type": "line", "strokeWidth": 2.5},
          "encoding": {
            "x": {"field": "t", "type": "quantitative", "axis": {"values": [-30, 30, 90, 150, 210, 270, 330, 390], "orient": "bottom", "tickSize": 5.7, "tickWidth": 1.3, "labels": false, "domain": false, "title": null}},
            "y": {"field": "v", "type": "quantitative", "axis": {"values": [-7.5, -2.5, 2.5, 7.5, 12.5, 17.5, 22.5], "orient": "left", "tickSize": 4.5, "tickWidth": 1.3, "labels": false, "domain": false, "title": null}},
            "color": {"field": "series", "type": "nominal", "scale": {"domain": ["fundamental", "3rd harmonic", "5th harmonic"], "range": ["#000000", "#ff0000", "#2b2bff"]}, "legend": null}
          }
        },
        {
          "data": {"name": "bDown"},
          "mark": {"type": "rule", "color": "black", "strokeWidth": 1},
          "encoding": {"x": {"field": "t", "type": "quantitative", "axis": null}, "y": {"field": "top", "type": "quantitative", "axis": null}, "y2": {"field": "tip"}}
        },
        {
          "data": {"name": "bDown"},
          "mark": {"type": "point", "shape": "M0,0L-0.55,-2L0.55,-2Z", "filled": true, "color": "black", "size": 144, "opacity": 1, "strokeWidth": 0},
          "encoding": {"x": {"field": "t", "type": "quantitative", "axis": null}, "y": {"field": "tip", "type": "quantitative", "axis": null}}
        },
        {
          "data": {"name": "bUp"},
          "mark": {"type": "rule", "color": "black", "strokeWidth": 1},
          "encoding": {"x": {"field": "t", "type": "quantitative", "axis": null}, "y": {"field": "base", "type": "quantitative", "axis": null}, "y2": {"field": "tip"}}
        },
        {
          "data": {"name": "bUp"},
          "mark": {"type": "point", "shape": "M0,0L-0.55,2L0.55,2Z", "filled": true, "color": "black", "size": 144, "opacity": 1, "strokeWidth": 0},
          "encoding": {"x": {"field": "t", "type": "quantitative", "axis": null}, "y": {"field": "tip", "type": "quantitative", "axis": null}}
        },
        {
          "data": {"name": "bBase"},
          "mark": {"type": "rule", "color": "black", "strokeWidth": 1},
          "encoding": {"x": {"field": "t1", "type": "quantitative", "axis": null}, "x2": {"field": "t2"}, "y": {"field": "v", "type": "quantitative", "axis": null}}
        },
        {
          "data": {"name": "bBase"},
          "mark": {"type": "point", "shape": "M0,0L-2,-0.55L-2,0.55Z", "filled": true, "color": "black", "size": 144, "opacity": 1, "strokeWidth": 0},
          "encoding": {"x": {"field": "t2", "type": "quantitative", "axis": null}, "y": {"field": "v", "type": "quantitative", "axis": null}}
        },
        {
          "data": {"name": "bSyr"},
          "mark": {"type": "rule", "color": "black", "strokeWidth": 1},
          "encoding": {"x": {"field": "t", "type": "quantitative", "axis": null}, "y": {"field": "top", "type": "quantitative", "axis": null}, "y2": {"field": "bottom"}}
        },
        {
          "data": {"name": "bSyr"},
          "mark": {"type": "point", "shape": "M0,0L-0.55,2L0.55,2Z", "filled": true, "color": "black", "size": 144, "opacity": 1, "strokeWidth": 0},
          "encoding": {"x": {"field": "t", "type": "quantitative", "axis": null}, "y": {"field": "top", "type": "quantitative", "axis": null}}
        },
        {
          "data": {"name": "bLabels"},
          "mark": {"type": "text", "align": "center", "baseline": "alphabetic", "fontSize": 20, "color": "black"},
          "encoding": {"x": {"field": "t", "type": "quantitative", "axis": null}, "y": {"field": "v", "type": "quantitative", "axis": null}, "text": {"field": "label"}}
        },
        {
          "data": {"name": "bRight"},
          "mark": {"type": "text", "align": "left", "baseline": "alphabetic", "fontSize": 20, "color": "black"},
          "encoding": {"x": {"field": "t", "type": "quantitative", "axis": null}, "y": {"field": "v", "type": "quantitative", "axis": null}, "text": {"field": "label"}}
        },
        {
          "data": {"values": [{"p": "(B)"}]},
          "mark": {"type": "text", "align": "center", "baseline": "middle", "fontSize": 28, "color": "black"},
          "encoding": {"x": {"datum": -101.2, "type": "quantitative", "axis": null}, "y": {"datum": 26.98, "type": "quantitative", "axis": null}, "text": {"field": "p"}}
        },
        {
          "data": {"values": [{"p": "box"}]},
          "mark": {"type": "rect", "fill": "white", "stroke": "#444444", "strokeWidth": 1},
          "encoding": {"x": {"datum": -33.4, "type": "quantitative", "axis": null}, "x2": {"datum": 128.2}, "y": {"datum": 27.6, "type": "quantitative", "axis": null}, "y2": {"datum": 20.12}}
        },
        {
          "data": {"name": "bLegend"},
          "mark": {"type": "rule", "strokeWidth": 2.5},
          "encoding": {"x": {"datum": -31.1, "type": "quantitative", "axis": null}, "x2": {"datum": 10.6}, "y": {"field": "v", "type": "quantitative", "axis": null}, "color": {"field": "series", "type": "nominal", "legend": null}}
        },
        {
          "data": {"name": "bLegend"},
          "mark": {"type": "text", "align": "left", "baseline": "middle", "fontSize": 24, "color": "black"},
          "encoding": {"x": {"datum": 16.6, "type": "quantitative", "axis": null}, "y": {"field": "v", "type": "quantitative", "axis": null}, "text": {"field": "series"}}
        }
      ]
    }
  ],
  "spacing": 163.3,
  "bounds": "flush",
  "resolve": {"scale": {"x": "independent", "y": "independent", "color": "independent"}}
}
